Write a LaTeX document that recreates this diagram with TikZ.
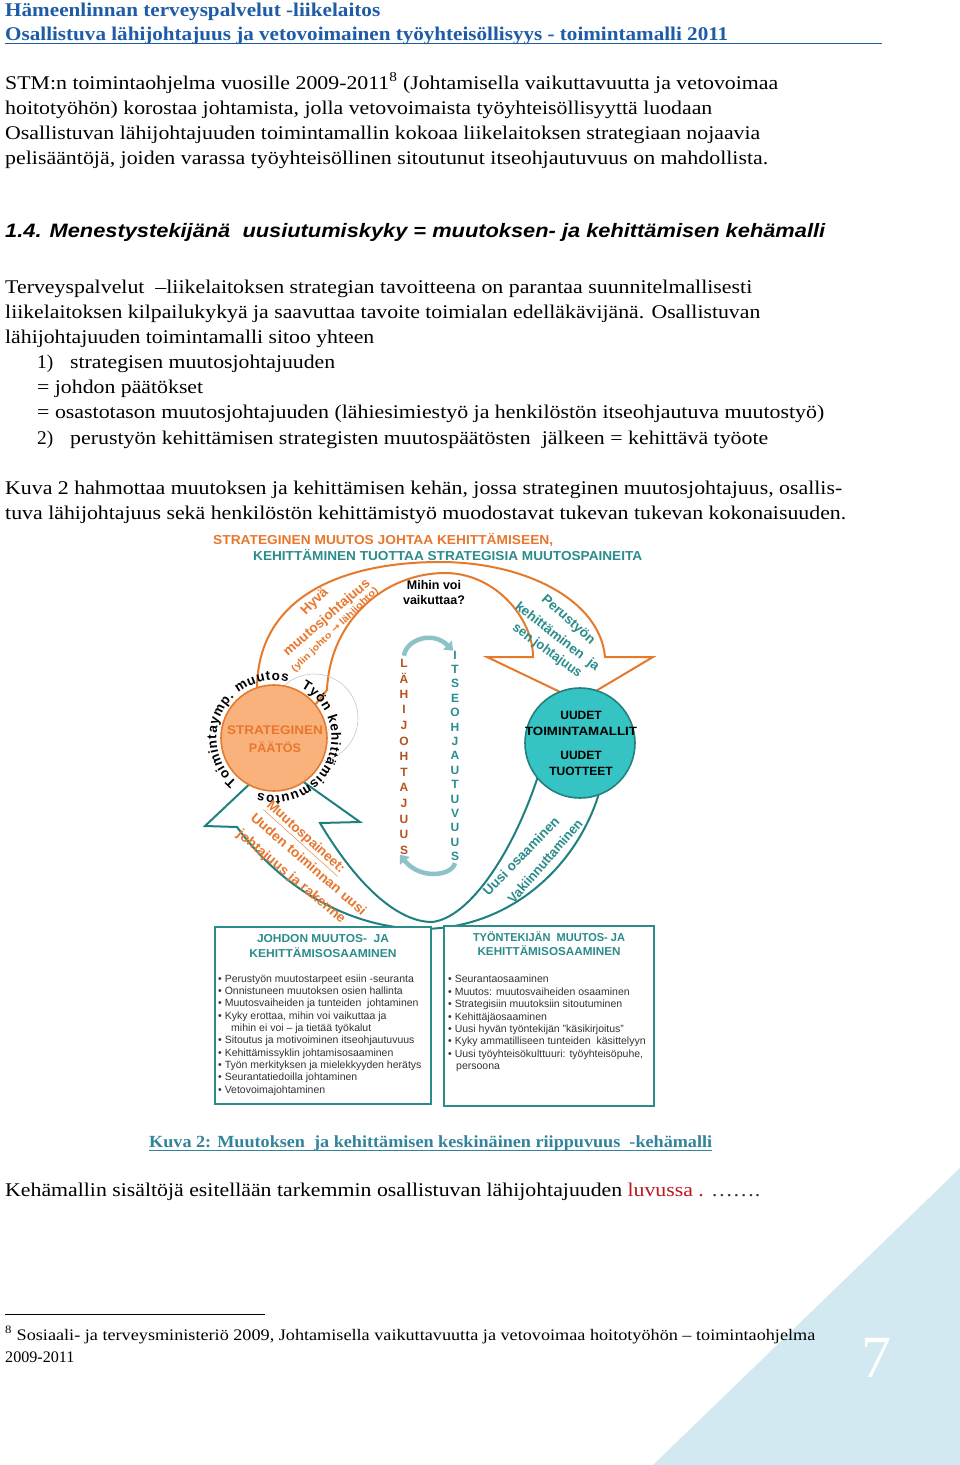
\documentclass[tikz,border=0pt]{standalone}
\usepackage{fontspec}
\setmainfont{Liberation Serif}
\setsansfont{Liberation Sans}
\newfontfamily\dejavu{DejaVu Sans}
\usetikzlibrary{decorations.text,arrows.meta}
\definecolor{hdrblue}{HTML}{1F5CA6}
\definecolor{diaorange}{HTML}{E8772E}
\definecolor{diateal}{HTML}{2B8C8C}
\definecolor{bandorange}{HTML}{E57A2C}
\definecolor{bandteal}{HTML}{1F8080}
\definecolor{circfill}{HTML}{F9B27C}
\definecolor{circteal}{HTML}{35C3C3}
\definecolor{circtealdraw}{HTML}{23807F}
\definecolor{lahi}{HTML}{B4531F}
\definecolor{tri}{HTML}{D3E9F1}
\definecolor{captcol}{HTML}{31849B}
\definecolor{luvred}{HTML}{C0141E}
\definecolor{bulgray}{HTML}{333333}
\definecolor{lbarr}{HTML}{8DC3C8}
\newcommand{\fw}[2]{\resizebox{#1pt}{\height}{#2}}
\newcommand{\ringfont}{\sffamily\bfseries\fontsize{13.5}{15}\selectfont}
\tikzset{
  body/.style={anchor=base west, inner sep=0pt, font=\fontsize{19.4}{22}\selectfont},
  hdr/.style={anchor=base west, inner sep=0pt, font=\fontsize{19.4}{22}\selectfont\bfseries, text=hdrblue},
  foot/.style={anchor=base west, inner sep=0pt, font=\fontsize{16.1}{18}\selectfont},
  dtitle/.style={anchor=base west, inner sep=0pt, font=\sffamily\bfseries\fontsize{13}{15}\selectfont},
  rottext/.style={inner sep=0pt, font=\sffamily\bfseries\fontsize{13.5}{15}\selectfont},
  vlet/.style={inner sep=0pt, font=\sffamily\bfseries\fontsize{12}{13}\selectfont},
  bul/.style={anchor=base west, inner sep=0pt, font=\sffamily\fontsize{10.5}{12}\selectfont, text=bulgray},
  btitle/.style={inner sep=0pt, font=\sffamily\bfseries\fontsize{11.5}{13}\selectfont, text=diateal},
  boxst/.style={draw=diateal, line width=2.2pt, fill=white, inner sep=0pt},
  orangeband/.style={draw=bandorange, line width=2pt, fill=white, line join=miter},
  tealband/.style={draw=bandteal, line width=2pt, fill=white, line join=miter},
  lbarrow/.style={draw=lbarr, line width=4.5pt, -{Triangle[width=12pt,length=8pt]}},
}
\begin{document}
\begin{tikzpicture}[x=1pt,y=-1pt]
\useasboundingbox (0,0) rectangle (960,1465);
\fill[white] (0,0) rectangle (960,1465);
% page corner triangle and page number
\fill[tri] (653,1465) -- (960,1168) -- (960,1465) -- cycle;
\node[inner sep=0pt, text=white, font=\fontsize{60}{60}\selectfont] (pgnum) at (876,1358) {7};

% header
\node[hdr] (h1) at (5,16) {\fw{375}{Hämeenlinnan terveyspalvelut -liikelaitos}};
\node[hdr] (h2) at (5,40) {\fw{723}{Osallistuva lähijohtajuus ja vetovoimainen työyhteisöllisyys - toimintamalli 2011}};
\draw[hdrblue, line width=1.6pt] (5,43.5) -- (882,43.5);

% first paragraph
\node[body] (p1) at (5,89) {\fw{773}{STM:n toimintaohjelma vuosille 2009-2011\textsuperscript{8} (Johtamisella vaikuttavuutta ja vetovoimaa}};
\node[body] (p2) at (5,114) {\fw{707}{hoitotyöhön) korostaa johtamista, jolla vetovoimaista työyhteisöllisyyttä luodaan}};
\node[body] (p3) at (5,139) {\fw{755}{Osallistuvan lähijohtajuuden toimintamallin kokoaa liikelaitoksen strategiaan nojaavia}};
\node[body] (p4) at (5,164) {\fw{763}{pelisääntöjä, joiden varassa työyhteisöllinen sitoutunut itseohjautuvuus on mahdollista.}};

% heading
\node[body, font=\sffamily\bfseries\itshape\fontsize{19.4}{22}\selectfont] (hd) at (5,237) {\fw{820}{1.4. Menestystekijänä \ uusiutumiskyky = muutoksen- ja kehittämisen kehämalli}};

% second paragraph
\node[body] (q1) at (5,293) {\fw{747}{Terveyspalvelut \ –liikelaitoksen strategian tavoitteena on parantaa suunnitelmallisesti}};
\node[body] (q2) at (5,318) {\fw{755}{liikelaitoksen kilpailukykyä ja saavuttaa tavoite toimialan edelläkävijänä. Osallistuvan}};
\node[body] (q3) at (5,343) {\fw{369}{lähijohtajuuden toimintamalli sitoo yhteen}};
\node[body] (q4n) at (37,368) {1)};
\node[body] (q4) at (70,368) {\fw{265}{strategisen muutosjohtajuuden}};
\node[body] (q5) at (37,393) {\fw{166}{= johdon päätökset}};
\node[body] (q6) at (37,418) {\fw{787}{= osastotason muutosjohtajuuden (lähiesimiestyö ja henkilöstön itseohjautuva muutostyö)}};
\node[body] (q7n) at (37,444) {2)};
\node[body] (q7) at (70,444) {\fw{698}{perustyön kehittämisen strategisten muutospäätösten \ jälkeen = kehittävä työote}};

\node[body] (r1) at (5,494) {\fw{837}{Kuva 2 hahmottaa muutoksen ja kehittämisen kehän, jossa strateginen muutosjohtajuus, osallis-}};
\node[body] (r2) at (5,519) {\fw{841}{tuva lähijohtajuus sekä henkilöstön kehittämistyö muodostavat tukevan tukevan kokonaisuuden.}};

% ===== diagram =====
\node[dtitle, text=diaorange] (dt1) at (213,544) {\fw{340}{STRATEGINEN MUUTOS JOHTAA KEHITTÄMISEEN,}};
\node[dtitle, text=diateal] (dt2) at (253,560) {\fw{389}{KEHITTÄMINEN TUOTTAA STRATEGISIA MUUTOSPAINEITA}};

% orange band (top arc arrow)
\draw[orangeband] (262,730) -- (257,688) .. controls (258,592) and (350,562) .. (440,562)
  .. controls (525,562) and (600,600) .. (605,657) -- (653,657) -- (579,701) -- (487,657) -- (533,657)
  .. controls (533,618) and (495,573) .. (445,573) .. controls (385,573) and (330,620) .. (327,690)
  -- (295,730) -- cycle;
% teal band (bottom arc arrow)
\draw[tealband] (540,770) .. controls (515,850) and (470,918) .. (432,922)
  .. controls (400,922) and (360,890) .. (320,823) -- (360,822) -- (274,761) -- (205,826) -- (237,827)
  .. controls (290,900) and (370,935) .. (440,928) .. controls (520,920) and (580,860) .. (600,790) -- cycle;

% faint gray circle
\draw[gray!45, line width=0.6pt] (314,718) circle[radius=44];

% circles
\node[circle, draw=bandorange, line width=1.6pt, fill=circfill, minimum size=106pt, inner sep=0pt] (sp) at (274,738) {};
\node[circle, draw=circtealdraw, line width=1.6pt, fill=circteal, minimum size=110pt, inner sep=0pt] (ut) at (580,743) {};

\node[rottext, text=diaorange, font=\sffamily\bfseries\fontsize{12.5}{14}\selectfont] (sp1) at (275,730) {\fw{96}{STRATEGINEN}};
\node[rottext, text=diaorange, font=\sffamily\bfseries\fontsize{12.5}{14}\selectfont] (sp2) at (275,747) {PÄÄTÖS};

\node[rottext, font=\sffamily\bfseries\fontsize{12}{14}\selectfont] (ut1) at (581,715) {UUDET};
\node[rottext, font=\sffamily\bfseries\fontsize{12}{14}\selectfont] (ut2) at (581,731) {\fw{112}{TOIMINTAMALLIT}};
\node[rottext, font=\sffamily\bfseries\fontsize{12}{14}\selectfont] (ut3) at (581,755) {UUDET};
\node[rottext, font=\sffamily\bfseries\fontsize{12}{14}\selectfont] (ut4) at (581,771) {TUOTTEET};

% ring texts
\path[decorate, decoration={text along path, text align=fit to path, text={|\ringfont|Toimintaymp. muutos}}]
  (274,738) ++(130:57.5) arc[start angle=130, end angle=284, radius=57.5];
\path[decorate, decoration={text along path, text align=fit to path, text={|\ringfont|Työn kehittämismuutos}}]
  (274,738) ++(-62:57.5) arc[start angle=-62, end angle=106, radius=57.5];

% band texts
\node[rottext, text=diaorange, rotate=45] (hy1) at (315,602) {Hyvä};
\node[rottext, text=diaorange, rotate=41] (hy2) at (327,618) {\fw{110}{muutosjohtajuus}};
\node[rottext, text=diaorange, rotate=44, font=\sffamily\bfseries\fontsize{9.5}{11}\selectfont] (hy3) at (335,630) {\fw{116}{(ylin johto {\dejavu\bfseries →} lähijohto)}};

\node[rottext, text=diateal, rotate=-42] (pe1) at (568,620) {\fw{67}{Perustyön}};
\node[rottext, text=diateal, rotate=-38] (pe2) at (557,637) {\fw{103}{kehittäminen \ ja}};
\node[rottext, text=diateal, rotate=-36] (pe3) at (547,651) {\fw{82}{sen johtajuus}};

\node[rottext, text=diateal, rotate=46] (uo1) at (521,856) {\fw{103}{Uusi osaaminen}};
\node[rottext, text=diateal, rotate=49] (uo2) at (545,861) {\fw{106}{Vakiinnuttaminen}};

\node[rottext, text=diaorange, rotate=-42] (mp1) at (305,838) {\fw{100}{\underline{Muutospaineet:}}};
\node[rottext, text=diaorange, rotate=-41] (mp2) at (309,864) {\fw{148}{Uuden toiminnan uusi}};
\node[rottext, text=diaorange, rotate=-40] (mp3) at (291,877) {\fw{137}{johtajuus ja rakenne}};

\node[rottext, font=\sffamily\bfseries\fontsize{12.5}{14}\selectfont] (mv1) at (434,585) {Mihin voi};
\node[rottext, font=\sffamily\bfseries\fontsize{12.5}{14}\selectfont] (mv2) at (434,600) {vaikuttaa?};

% vertical words
\foreach \ch [count=\i] in {L,Ä,H,I,J,O,H,T,A,J,U,U,S}
  \node[vlet, text=lahi] (la\i) at (404,{663+15.6*(\i-1)}) {\ch};
\foreach \ch [count=\i] in {I,T,S,E,O,H,J,A,U,T,U,V,U,U,S}
  \node[vlet, text=diateal] (it\i) at (455,{655+14.4*(\i-1)}) {\ch};

% light blue circulation arrows
\draw[lbarrow] (la1.north) ++(0,-3) coordinate (a1s) .. controls (406,640) and (432,630) .. (it1.north west);
\draw[lbarrow] (it15.south) ++(0,2) coordinate (a2s) .. controls (452,876) and (420,880) .. (la13.south west);

% bottom boxes
\node[boxst, minimum width=216pt, minimum height=177pt] (lbox) at (323,1015.5) {};
\node[boxst, minimum width=210pt, minimum height=180pt] (rbox) at (549,1016) {};

\node[btitle] (lt1) at (323,939) {\fw{132}{JOHDON MUUTOS- \ JA}};
\node[btitle] (lt2) at (323,953) {\fw{147}{KEHITTÄMISOSAAMINEN}};
\node[btitle] (rt1) at (549,937) {\fw{152}{TYÖNTEKIJÄN \ MUUTOS- JA}};
\node[btitle] (rt2) at (549,951) {\fw{143}{KEHITTÄMISOSAAMINEN}};

\node[bul] (lb1) at (218,982) {• Perustyön muutostarpeet esiin -seuranta};
\node[bul] (lb2) at (218,994.5) {• Onnistuneen muutoksen osien hallinta};
\node[bul] (lb3) at (218,1006.5) {• Muutosvaiheiden ja tunteiden \ johtaminen};
\node[bul] (lb4) at (218,1019) {• Kyky erottaa, mihin voi vaikuttaa ja};
\node[bul] (lb4b) at (231,1031.5) {mihin ei voi – ja tietää työkalut};
\node[bul] (lb5) at (218,1043.5) {• Sitoutus ja motivoiminen itseohjautuvuus};
\node[bul] (lb6) at (218,1056) {• Kehittämissyklin johtamisosaaminen};
\node[bul] (lb7) at (218,1068.5) {• Työn merkityksen ja mielekkyyden herätys};
\node[bul] (lb8) at (218,1080.5) {• Seurantatiedoilla johtaminen};
\node[bul] (lb9) at (218,1093) {• Vetovoimajohtaminen};

\node[bul] (rb1) at (448,982.5) {• Seurantaosaaminen};
\node[bul] (rb2) at (448,995) {• Muutos: muutosvaiheiden osaaminen};
\node[bul] (rb3) at (448,1007.5) {• Strategisiin muutoksiin sitoutuminen};
\node[bul] (rb4) at (448,1020) {• Kehittäjäosaaminen};
\node[bul] (rb5) at (448,1032.5) {• Uusi hyvän työntekijän "käsikirjoitus"};
\node[bul] (rb6) at (448,1044.5) {• Kyky ammatilliseen tunteiden \ käsittelyyn};
\node[bul] (rb7) at (448,1057) {• Uusi työyhteisökulttuuri: työyhteisöpuhe,};
\node[bul] (rb7b) at (456,1069.5) {persoona};

% caption
\node[body, font=\bfseries\fontsize{17}{19}\selectfont, text=captcol] (cap) at (149,1147) {\fw{563}{Kuva 2: Muutoksen \ ja kehittämisen keskinäinen riippuvuus \ -kehämalli}};
\draw[captcol, line width=1pt] (149,1150) -- (712,1150);

\node[body] (s1) at (5,1196) {\fw{755}{Kehämallin sisältöjä esitellään tarkemmin osallistuvan lähijohtajuuden \textcolor{luvred}{luvussa .} {\color{black!80}…….}}};

% footnote
\draw[black, line width=0.8pt] (5,1314) -- (265,1314);
\node[foot] (f1) at (5,1340) {\fw{810}{\textsuperscript{8} Sosiaali- ja terveysministeriö 2009, Johtamisella vaikuttavuutta ja vetovoimaa hoitotyöhön – toimintaohjelma}};
\node[foot] (f2) at (5,1362) {2009-2011};
\end{tikzpicture}
\end{document}
